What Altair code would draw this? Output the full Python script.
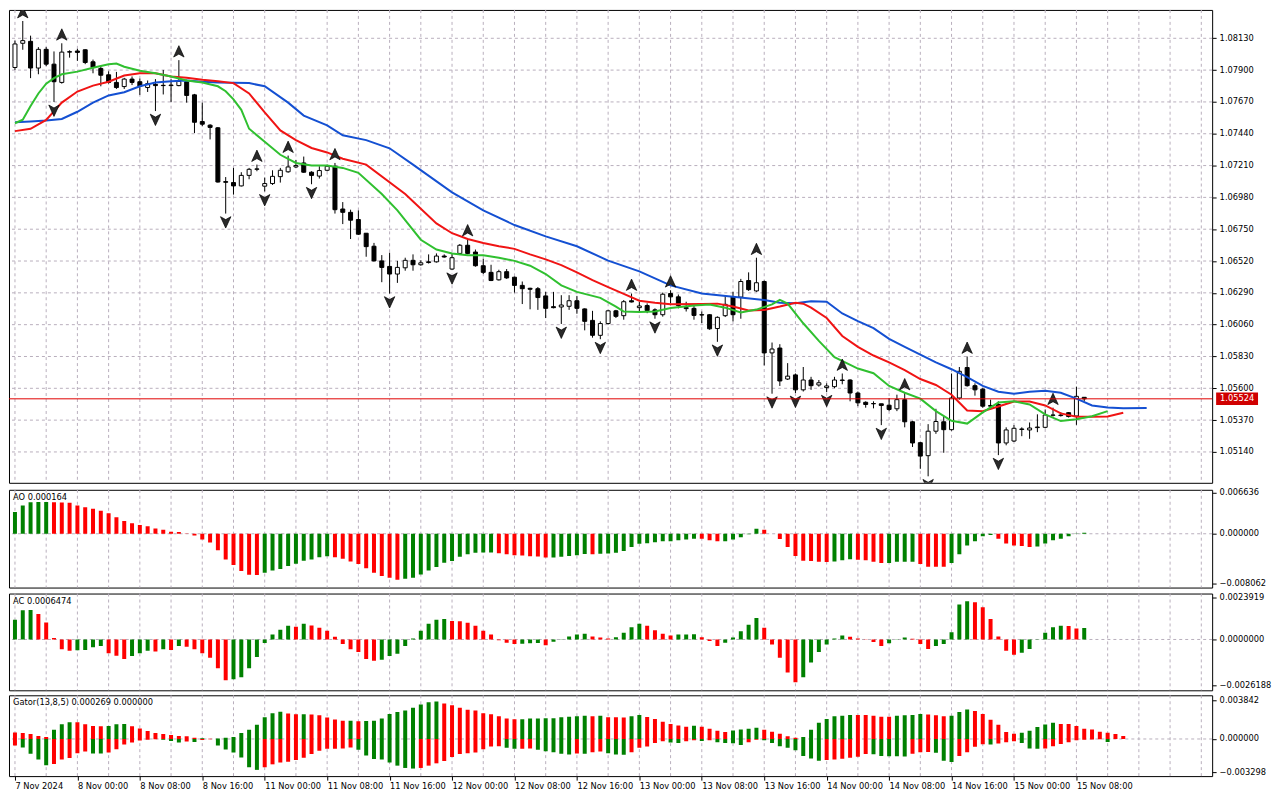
import altair as alt
import pandas as pd

# ---------------- price data (EURUSD H1), bar index 0 = 7 Nov 16:00 ----------------
opens = [1.07919,1.08094,1.08108,1.07915,1.08050,1.07943,1.07811,1.08033,1.08038,1.08047,
         1.07960,1.07912,1.07866,1.07811,1.07781,1.07835,1.07816,1.07774,1.07797,1.07790,
         1.07788,1.07788,1.07816,1.07721,1.07528,1.07502,1.07483,1.07094,1.07087,1.07063,
         1.07139,1.07183,1.07061,1.07080,1.07130,1.07165,1.07200,1.07229,1.07162,1.07134,
         1.07176,1.07205,1.06896,1.06872,1.06820,1.06721,1.06627,1.06521,1.06481,1.06426,
         1.06471,1.06525,1.06493,1.06514,1.06514,1.06556,1.06462,1.06575,1.06634,1.06585,
         1.06486,1.06438,1.06384,1.06443,1.06403,1.06344,1.06323,1.06320,1.06268,1.06190,
         1.06188,1.06193,1.06233,1.06174,1.06091,1.05983,1.06068,1.06160,1.06125,1.06233,
         1.06183,1.06198,1.06167,1.06132,1.06285,1.06261,1.06183,1.06178,1.06132,1.06132,
         1.06032,1.06125,1.06261,1.06259,1.06379,1.06304,1.06372,1.05856,1.05891,1.05667,
         1.05697,1.05589,1.05660,1.05624,1.05605,1.05612,1.05660,1.05660,1.05566,1.05499,
         1.05490,1.05488,1.05478,1.05452,1.05518,1.05358,1.05207,1.05113,1.05290,1.05358,
         1.05301,1.05530,1.05750,1.05619,1.05594,1.05476,1.05483,1.05205,1.05219,1.05306,
         1.05299,1.05316,1.05318,1.05405,1.05403,1.05424,1.05400,1.05535]
highs = [1.08113,1.08255,1.08149,1.08066,1.08066,1.08035,1.08094,1.08043,1.08054,1.08050,
         1.07976,1.07929,1.07891,1.07887,1.07844,1.07854,1.07839,1.07825,1.07835,1.07901,
         1.07835,1.07972,1.07830,1.07728,1.07665,1.07509,1.07488,1.07127,1.07193,1.07162,
         1.07193,1.07217,1.07123,1.07176,1.07193,1.07282,1.07250,1.07275,1.07169,1.07205,
         1.07217,1.07229,1.06946,1.06891,1.06886,1.06721,1.06651,1.06563,1.06580,1.06521,
         1.06544,1.06568,1.06525,1.06568,1.06575,1.06568,1.06575,1.06643,1.06679,1.06603,
         1.06537,1.06493,1.06457,1.06462,1.06408,1.06372,1.06327,1.06332,1.06297,1.06297,
         1.06273,1.06273,1.06268,1.06178,1.06160,1.06084,1.06167,1.06167,1.06238,1.06285,
         1.06226,1.06214,1.06178,1.06292,1.06309,1.06278,1.06226,1.06198,1.06155,1.06136,
         1.06120,1.06273,1.06297,1.06391,1.06438,1.06544,1.06379,1.05931,1.05919,1.05782,
         1.05707,1.05754,1.05683,1.05660,1.05636,1.05683,1.05707,1.05665,1.05577,1.05506,
         1.05506,1.05488,1.05530,1.05554,1.05566,1.05365,1.05212,1.05341,1.05452,1.05400,
         1.05707,1.05754,1.05830,1.05636,1.05601,1.05518,1.05506,1.05318,1.05334,1.05318,
         1.05353,1.05412,1.05447,1.05460,1.05428,1.05428,1.05612,1.05535]
lows = [1.07901,1.08047,1.07842,1.07870,1.07929,1.07670,1.07802,1.07990,1.07967,1.07943,
        1.07877,1.07783,1.07802,1.07764,1.07764,1.07792,1.07721,1.07742,1.07604,1.07724,
        1.07670,1.07783,1.07665,1.07445,1.07495,1.07399,1.07087,1.06863,1.07000,1.07059,
        1.07111,1.07169,1.07023,1.07070,1.07087,1.07158,1.07193,1.07158,1.07075,1.07116,
        1.07169,1.06863,1.06787,1.06679,1.06709,1.06551,1.06516,1.06367,1.06285,1.06362,
        1.06450,1.06450,1.06486,1.06502,1.06509,1.06544,1.06457,1.06563,1.06568,1.06479,
        1.06426,1.06375,1.06379,1.06391,1.06292,1.06209,1.06171,1.06167,1.06108,1.06178,
        1.06065,1.06167,1.06139,1.06019,1.05966,1.05955,1.06061,1.06108,1.06096,1.06221,
        1.06155,1.06143,1.06103,1.06118,1.06214,1.06178,1.06155,1.06096,1.06072,1.06023,
        1.05936,1.06115,1.06084,1.06103,1.06304,1.06297,1.05766,1.05561,1.05617,1.05660,
        1.05566,1.05577,1.05589,1.05612,1.05572,1.05601,1.05629,1.05506,1.05471,1.05460,
        1.05455,1.05334,1.05435,1.05435,1.05318,1.05176,1.05018,1.04964,1.05271,1.05134,
        1.05294,1.05518,1.05612,1.05547,1.05460,1.05447,1.05117,1.05188,1.05212,1.05254,
        1.05235,1.05283,1.05311,1.05396,1.05396,1.05389,1.05336,1.05506]
closes = [1.08089,1.08113,1.07915,1.08050,1.07943,1.07816,1.08030,1.08030,1.08028,1.07955,
          1.07919,1.07863,1.07811,1.07774,1.07835,1.07811,1.07783,1.07802,1.07788,1.07788,
          1.07792,1.07818,1.07717,1.07523,1.07509,1.07486,1.07091,1.07089,1.07063,1.07139,
          1.07183,1.07186,1.07080,1.07132,1.07176,1.07200,1.07210,1.07162,1.07139,1.07174,
          1.07205,1.06891,1.06872,1.06815,1.06714,1.06624,1.06521,1.06474,1.06426,1.06474,
          1.06525,1.06493,1.06507,1.06509,1.06556,1.06549,1.06544,1.06634,1.06575,1.06486,
          1.06438,1.06379,1.06443,1.06398,1.06344,1.06320,1.06316,1.06256,1.06178,1.06183,
          1.06202,1.06233,1.06178,1.06084,1.05983,1.06068,1.06160,1.06120,1.06226,1.06224,
          1.06195,1.06162,1.06132,1.06280,1.06261,1.06198,1.06176,1.06127,1.06130,1.06030,
          1.06113,1.06207,1.06132,1.06372,1.06313,1.06363,1.05856,1.05884,1.05653,1.05688,
          1.05589,1.05660,1.05619,1.05640,1.05617,1.05660,1.05657,1.05566,1.05495,1.05483,
          1.05488,1.05476,1.05447,1.05518,1.05358,1.05205,1.05110,1.05290,1.05360,1.05301,
          1.05530,1.05723,1.05619,1.05589,1.05471,1.05471,1.05205,1.05299,1.05311,1.05303,
          1.05313,1.05320,1.05407,1.05407,1.05407,1.05396,1.05542,1.05524]

up_fractals = [1, 6, 21, 31, 35, 41, 58, 79, 84, 95, 106, 114, 122, 133]
down_fractals = [5, 18, 27, 32, 38, 48, 56, 70, 75, 82, 90, 97, 100, 104, 111, 117, 126]

# ---------------- Alligator lines (bar index incl. forward shift, price) ----------------
jaw_i = [0,2,4,6,8,10,12,14,16,18,20,22,24,26,30,32,35,37,40,42,45,48,51,56,60,64,68,72,76,80,
         84,88,92,96,98,100,102,104,106,108,110,112,114,116,118,120,122,124,126,128,130,132,134,
         136,138,140,142,145]
jaw_p = [1.07523,1.07528,1.07535,1.07547,1.07599,1.07665,1.07717,1.07740,1.07783,1.07811,
         1.07820,1.07825,1.07816,1.07811,1.07806,1.07783,1.07665,1.07571,1.07500,1.07429,
         1.07394,1.07335,1.07217,1.07016,1.06886,1.06780,1.06698,1.06627,1.06523,1.06445,
         1.06344,1.06285,1.06261,1.06238,1.06219,1.06214,1.06229,1.06226,1.06141,1.06085,
         1.06035,1.05957,1.05900,1.05844,1.05787,1.05738,1.05681,1.05617,1.05575,1.05561,
         1.05575,1.05582,1.05568,1.05525,1.05476,1.05462,1.05455,1.05458]
teeth_i = [0,2,4,6,8,10,12,14,16,18,20,22,24,26,28,30,32,34,36,38,40,42,45,50,54,56,58,60,62,64,
           66,68,70,72,74,76,78,80,82,84,88,90,92,94,96,98,100,101,102,104,106,108,110,112,114,
           116,118,120,122,124,126,128,130,132,134,136,138,140,142]
teeth_p = [1.07459,1.07476,1.07540,1.07665,1.07745,1.07788,1.07816,1.07861,1.07877,1.07877,
           1.07854,1.07844,1.07830,1.07820,1.07806,1.07731,1.07594,1.07464,1.07394,1.07337,
           1.07305,1.07259,1.07217,1.07004,1.06792,1.06721,1.06679,1.06651,1.06627,1.06608,
           1.06568,1.06532,1.06490,1.06438,1.06382,1.06332,1.06283,1.06233,1.06219,1.06208,
           1.06210,1.06212,1.06191,1.06162,1.06166,1.06191,1.06219,1.06212,1.06183,1.06108,
           1.05978,1.05900,1.05837,1.05787,1.05731,1.05667,1.05624,1.05554,1.05440,1.05435,
           1.05469,1.05504,1.05504,1.05476,1.05419,1.05394,1.05394,1.05396,1.05424]
lips_i = [0,1,2,3,4,5,6,8,10,12,13,14,16,18,20,22,24,26,27,28,29,30,32,34,36,38,40,42,44,47,
          49,52,54,56,58,60,62,64,66,68,70,72,75,77,78,80,82,84,87,89,91,93,95,97,98,99,101,103,
          105,108,110,112,114,116,118,120,122,124,126,128,130,132,134,136,138,140]
lips_p = [1.07516,1.07542,1.07641,1.07731,1.07802,1.07842,1.07870,1.07889,1.07917,1.07943,
          1.07948,1.07924,1.07896,1.07877,1.07854,1.07825,1.07811,1.07783,1.07747,1.07689,
          1.07613,1.07476,1.07382,1.07288,1.07229,1.07210,1.07210,1.07193,1.07158,1.07004,
          1.06886,1.06674,1.06603,1.06575,1.06561,1.06561,1.06544,1.06521,1.06486,1.06426,
          1.06344,1.06297,1.06254,1.06191,1.06155,1.06152,1.06155,1.06180,1.06198,1.06205,
          1.06183,1.06148,1.06169,1.06207,1.06240,1.06212,1.06070,1.05943,1.05825,1.05743,
          1.05709,1.05617,1.05568,1.05525,1.05435,1.05365,1.05345,1.05426,1.05497,1.05506,
          1.05483,1.05412,1.05363,1.05377,1.05398,1.05435]

# ---------------- Awesome Oscillator ----------------
ao_values = [0.00355,0.00461,0.00514,0.00516,0.00518,0.00512,0.00510,0.00504,0.00461,0.00429,
             0.00408,0.00376,0.00334,0.00270,0.00207,0.00170,0.00143,0.00122,0.00085,0.00064,
             0.00032,0.00027,0.00005,-0.00027,-0.00095,-0.00143,-0.00270,-0.00419,-0.00509,-0.00604,
             -0.00668,-0.00670,-0.00636,-0.00599,-0.00572,-0.00525,-0.00488,-0.00440,-0.00419,-0.00382,
             -0.00366,-0.00382,-0.00408,-0.00451,-0.00493,-0.00562,-0.00636,-0.00689,-0.00716,-0.00747,
             -0.00731,-0.00716,-0.00663,-0.00599,-0.00541,-0.00472,-0.00445,-0.00376,-0.00334,-0.00307,
             -0.00306,-0.00305,-0.00318,-0.00334,-0.00350,-0.00352,-0.00366,-0.00368,-0.00387,-0.00386,
             -0.00376,-0.00360,-0.00350,-0.00328,-0.00332,-0.00325,-0.00320,-0.00307,-0.00281,-0.00217,
             -0.00164,-0.00154,-0.00138,-0.00122,-0.00121,-0.00106,-0.00095,-0.00080,-0.00081,-0.00106,
             -0.00122,-0.00121,-0.00095,-0.00058,-0.00010,0.00080,0.00064,0.00002,-0.00085,-0.00217,
             -0.00360,-0.00440,-0.00442,-0.00456,-0.00458,-0.00450,-0.00429,-0.00413,-0.00424,-0.00430,
             -0.00456,-0.00477,-0.00475,-0.00456,-0.00455,-0.00454,-0.00493,-0.00535,-0.00537,-0.00538,
             -0.00477,-0.00334,-0.00191,-0.00122,-0.00042,-0.00020,-0.00080,-0.00159,-0.00191,-0.00201,
             -0.00217,-0.00207,-0.00159,-0.00106,-0.00080,-0.00042,-0.00005,0.000164]
ao_colors = ("GGGGGRRRRR" "RRRRRRRRRR" "RRRRRRRRRR" "RRGGGGGGGG" "GRRRRRRRRR"
             "GGGGGGGGGG" "GGRRRRRRRG" "GGGGRGGGGG" "GGGGGGGGRR" "RGGGGGRRRR"
             "RRRRRGGGRR" "RRGGGGRRRR" "GGGGGGRRRR" "RGGGGGGG")

# ---------------- Accelerator Oscillator ----------------
ac_values = [0.00112,0.00167,0.00168,0.00145,0.00097,0.00009,-0.00056,-0.00065,-0.00061,-0.00060,
             -0.00045,-0.00037,-0.00078,-0.00093,-0.00112,-0.00095,-0.00078,-0.00065,-0.00069,-0.00056,
             -0.00060,-0.00037,-0.00041,-0.00056,-0.00078,-0.00104,-0.00164,-0.00233,-0.00227,-0.00216,
             -0.00164,-0.00100,-0.00020,0.00028,0.00056,0.00078,0.00073,0.00089,0.00080,0.00067,
             0.00050,0.00015,-0.00026,-0.00056,-0.00071,-0.00112,-0.00121,-0.00115,-0.00095,-0.00082,
             -0.00037,0.00006,0.00050,0.00089,0.00112,0.00117,0.00106,0.00104,0.00095,0.00078,
             0.00050,0.00028,-0.00004,-0.00019,-0.00026,-0.00024,-0.00022,-0.00020,-0.00033,-0.00013,
             -0.00001,0.00017,0.00028,0.00033,0.00017,0.00011,0.00006,0.00013,0.00039,0.00069,
             0.00089,0.00078,0.00052,0.00033,0.00022,0.00028,0.00029,0.00030,0.00013,-0.00009,
             -0.00037,-0.00019,0.00011,0.00047,0.00084,0.00123,0.00067,-0.00028,-0.00104,-0.00188,
             -0.00244,-0.00216,-0.00132,-0.00071,-0.00028,0.00006,0.00022,0.00015,0.00006,-0.00002,
             -0.00015,-0.00037,-0.00022,-0.00002,0.00011,0.00004,-0.00026,-0.00054,-0.00037,-0.00026,
             0.00041,0.00199,0.00218,0.00212,0.00184,0.00117,0.00017,-0.00065,-0.00087,-0.00076,
             -0.00054,-0.00002,0.00039,0.00069,0.00078,0.00077,0.00062,0.0006474]
ac_colors = ("GGGRRRRRGG" "GGRRRGGGRG" "RGRRRRRRGG" "GGGGGGRGRR" "RRRRRRRGGG"
             "GGGGGGRRRR" "RRRRRGGGRG" "GGGGRRRGGG" "GRRRRGGGRR" "RGGGGGRRRR"
             "RGGGGGGRRR" "RRGGGRRRGG" "GGGRRRRRRG" "GGGGGRRG")

# ---------------- Gator Oscillator ----------------
gator_up = [0.00065,0.00059,0.00049,0.00029,0.00020,0.00092,0.00147,0.00167,0.00165,0.00147,
            0.00128,0.00127,0.00130,0.00147,0.00148,0.00127,0.00105,0.00078,0.00059,0.00049,
            0.00039,0.00029,0.00028,0.00013,0.00007,0.00002,0.00005,0.00013,0.00020,0.00059,
            0.00092,0.00141,0.00216,0.00255,0.00271,0.00252,0.00245,0.00246,0.00244,0.00235,
            0.00213,0.00193,0.00180,0.00181,0.00177,0.00178,0.00180,0.00203,0.00249,0.00268,
            0.00284,0.00311,0.00343,0.00366,0.00373,0.00353,0.00334,0.00311,0.00291,0.00284,
            0.00255,0.00245,0.00226,0.00203,0.00196,0.00197,0.00203,0.00204,0.00205,0.00206,
            0.00216,0.00222,0.00226,0.00232,0.00226,0.00232,0.00216,0.00215,0.00214,0.00226,
            0.00239,0.00219,0.00199,0.00170,0.00150,0.00134,0.00121,0.00131,0.00121,0.00101,
            0.00082,0.00069,0.00085,0.00095,0.00101,0.00111,0.00092,0.00072,0.00052,0.00026,
            0.00013,0.00020,0.00092,0.00160,0.00199,0.00226,0.00232,0.00239,0.00238,0.00237,
            0.00232,0.00222,0.00221,0.00232,0.00235,0.00239,0.00248,0.00242,0.00235,0.00226,
            0.00232,0.00268,0.00294,0.00278,0.00249,0.00190,0.00141,0.00069,0.00052,0.00062,
            0.00082,0.00118,0.00144,0.00160,0.00150,0.00150,0.00128,0.00101,0.00095,0.00072,
            0.00062,0.00049,0.00029]
gator_up_colors = ("RRRRRGGGRR" "RRGGGRRRRR" "RRRRGRGGGG" "GGGGGRRGRR" "RRRGRGGGGG"
                   "GGGGGRRRRR" "RRRRRGGGGG" "GGGGRGRRRG" "GRRRRRRGRR" "RRGGGGRRRR"
                   "RGGGGGGGRR" "RRRGGGGRRR" "GGGRRRRRRG" "GGGGRRRRRR" "RRR")
gator_dn = [-0.00065,-0.00085,-0.00147,-0.00203,-0.00262,-0.00249,-0.00203,-0.00190,-0.00141,-0.00124,
            -0.00144,-0.00145,-0.00134,-0.00101,-0.00056,-0.00036,-0.00016,-0.00007,-0.00003,-0.00007,
            -0.00020,-0.00036,-0.00026,-0.00029,-0.00010,-0.00003,-0.00065,-0.00105,-0.00134,-0.00183,
            -0.00281,-0.00307,-0.00281,-0.00252,-0.00235,-0.00226,-0.00209,-0.00186,-0.00150,-0.00118,
            -0.00098,-0.00097,-0.00095,-0.00085,-0.00108,-0.00164,-0.00199,-0.00203,-0.00235,-0.00265,
            -0.00288,-0.00294,-0.00288,-0.00265,-0.00242,-0.00219,-0.00180,-0.00150,-0.00141,-0.00134,
            -0.00101,-0.00075,-0.00072,-0.00088,-0.00098,-0.00096,-0.00094,-0.00108,-0.00121,-0.00131,
            -0.00147,-0.00154,-0.00144,-0.00147,-0.00131,-0.00124,-0.00141,-0.00154,-0.00157,-0.00131,
            -0.00088,-0.00075,-0.00039,-0.00023,-0.00036,-0.00039,-0.00023,-0.00013,-0.00020,-0.00013,
            -0.00033,-0.00039,-0.00043,-0.00059,-0.00033,-0.00007,-0.00013,-0.00039,-0.00072,-0.00088,
            -0.00111,-0.00170,-0.00193,-0.00216,-0.00209,-0.00203,-0.00196,-0.00186,-0.00177,-0.00150,
            -0.00151,-0.00170,-0.00171,-0.00172,-0.00173,-0.00147,-0.00131,-0.00130,-0.00137,-0.00216,
            -0.00229,-0.00170,-0.00131,-0.00078,-0.00052,-0.00056,-0.00046,-0.00033,-0.00023,-0.00039,
            -0.00095,-0.00098,-0.00095,-0.00072,-0.00049,-0.00033,-0.00013,-0.00008,-0.00005,-0.00003,
            -0.00029]
gator_dn_colors = ("RGGGGRRRRR" "GGRRRRRRRG" "GGRGRRGGGG" "GGRRRRRRRR" "RRRRGGGGGG"
                   "GGRRRRRRRR" "RRRGGRRGGG" "GGRGRRGGGR" "RRRRGGRRGR" "GGGGRRGGGG"
                   "GGGGRRRRRR" "GGGGGRRRGG" "GRRRRGRRRG" "GGRRRRRRRRG")

# ---------------- axes / texts ----------------
price_ticks = [1.05140,1.05370,1.05600,1.05830,1.06060,1.06290,1.06520,1.06750,
               1.06980,1.07210,1.07440,1.07670,1.07900,1.08130]
current_price = 1.05524
ao_ticks = [-0.008062, 0.0, 0.006636]
ac_ticks = [-0.0026188, 0.0, 0.0023919]
gator_ticks = [-0.003298, 0.0, 0.003842]
x_labels = ["7 Nov 2024","8 Nov 00:00","8 Nov 08:00","8 Nov 16:00","11 Nov 00:00","11 Nov 08:00",
            "11 Nov 16:00","12 Nov 00:00","12 Nov 08:00","12 Nov 16:00","13 Nov 00:00","13 Nov 08:00",
            "13 Nov 16:00","14 Nov 00:00","14 Nov 08:00","14 Nov 16:00","15 Nov 00:00","15 Nov 08:00"]
ao_title = "AO 0.000164"
ac_title = "AC 0.0006474"
gator_title = "Gator(13,8,5) 0.000269 0.000000"

# ---------------- styling ----------------
FONT = "DejaVu Sans"
FS = 8.3
W = 1206
H_MAIN, H_AO, H_AC, H_G = 474, 98, 97, 81
SPACING = 3
GRID = "#b9afbd"
DASH = [3, 3]
BLUE, RED, LIME = "#1450d2", "#f01414", "#30c030"
GREEN_BAR, RED_BAR = "#008000", "#ff0000"

xscale = alt.Scale(domain=[-0.125, 152.75], nice=False, zero=False)
main_y = alt.Scale(domain=[1.04917, 1.08335], nice=False, zero=False)
ao_y = alt.Scale(domain=[-0.00875, 0.00715], nice=False, zero=False)
ac_y = alt.Scale(domain=[-0.00290, 0.00262], nice=False, zero=False)
g_y = alt.Scale(domain=[-0.00369, 0.00434], nice=False, zero=False)
col_scale = alt.Scale(domain=["G", "R"], range=[GREEN_BAR, RED_BAR])

UP_SHAPE = "M0,-1L0.8,0.75L0,0.3L-0.8,0.75Z"
DOWN_SHAPE = "M0,1L0.8,-0.75L0,-0.3L-0.8,-0.75Z"
BOX_SHAPE = "M-1,-0.3L1,-0.3L1,0.3L-1,0.3Z"


def right_axis(values, fmt):
    return alt.Axis(orient="right", values=values, format=fmt, title=None, grid=False,
                    domain=False, ticks=True, tickSize=4, labelPadding=3,
                    labelFont=FONT, labelFontSize=FS, labelColor="black", tickColor="black")


label_pos = [8 * k for k in range(len(x_labels))]
label_expr = "[" + ",".join("'" + s + "'" for s in x_labels) + "][round(datum.value / 8)]"
bottom_axis = alt.Axis(orient="bottom", values=label_pos, labelExpr=label_expr, title=None,
                       grid=False, domain=False, ticks=True, tickSize=4, tickColor="black",
                       labelAlign="left", labelPadding=1, labelFlush=False, labelOverlap=False,
                       labelFont=FONT, labelFontSize=FS, labelColor="black", labelBound=False)

vgrid_df = pd.DataFrame({"i": list(range(0, 153, 4))})


def hist_df(vals, cols):
    return pd.DataFrame({"i": list(range(len(vals))), "v": vals,
                         "col": [cols[k] if k < len(cols) else "G" for k in range(len(vals))]})


def title_layer(text):
    return alt.Chart(pd.DataFrame({"t": [text]})).mark_text(
        align="left", baseline="top", font=FONT, fontSize=FS, color="black"
    ).encode(x=alt.value(4), y=alt.value(3), text="t:N")


def make_xy(xaxis, yscale, yaxis):
    def X(field="i"):
        return alt.X(f"{field}:Q", scale=xscale, axis=xaxis, title=None)

    def Y(field):
        return alt.Y(f"{field}:Q", scale=yscale, axis=yaxis, title=None)
    return X, Y


# ---------------- main panel ----------------
n = min(len(opens), len(highs), len(lows), len(closes))
candles = pd.DataFrame({"i": list(range(n)), "o": opens[:n], "h": highs[:n],
                        "l": lows[:n], "c": closes[:n]})

main_axis = right_axis(price_ticks, ".5f")
MX, MY = make_xy(None, main_y, main_axis)

vgrid_main = alt.Chart(vgrid_df).mark_rule(color=GRID, strokeDash=DASH, strokeWidth=1).encode(x=MX())
hgrid = alt.Chart(pd.DataFrame({"p": price_ticks})).mark_rule(
    color=GRID, strokeDash=DASH, strokeWidth=1).encode(y=MY("p"))
wicks = alt.Chart(candles).mark_rule(color="black", strokeWidth=1, clip=True).encode(
    x=MX(), y=MY("l"), y2=alt.Y2("h:Q", title=None))
bodies = alt.Chart(candles).mark_bar(width=4, stroke="black", strokeWidth=1, clip=True).encode(
    x=MX(), y=MY("o"), y2=alt.Y2("c:Q", title=None),
    fill=alt.condition("datum.c > datum.o", alt.value("white"), alt.value("black")))


def line(ii, pp, color):
    m = min(len(ii), len(pp))
    return alt.Chart(pd.DataFrame({"i": ii[:m], "p": pp[:m]})).mark_line(
        color=color, strokeWidth=2, clip=True).encode(x=MX(), y=MY("p"))


up_df = candles[candles.i.isin(up_fractals)]
dn_df = candles[candles.i.isin(down_fractals)]
up_marks = alt.Chart(up_df).mark_point(
    shape=UP_SHAPE, size=170, filled=True, fill="#2a2a2a", stroke="#000000", strokeWidth=0.7,
    opacity=1, yOffset=-8, clip=True).encode(x=MX(), y=MY("h"))
dn_marks = alt.Chart(dn_df).mark_point(
    shape=DOWN_SHAPE, size=170, filled=True, fill="#2a2a2a", stroke="#000000", strokeWidth=0.7,
    opacity=1, yOffset=8, clip=True).encode(x=MX(), y=MY("l"))

price_df = pd.DataFrame({"p": [current_price], "label": [f"{current_price:.5f}"]})
price_line = alt.Chart(price_df).mark_rule(color="#e00000", strokeWidth=1).encode(y=MY("p"))
price_box = alt.Chart(price_df).mark_point(
    shape=BOX_SHAPE, size=1764, filled=True, fill="#d00000", opacity=1, strokeWidth=0
).encode(x=alt.value(W + 25), y=MY("p"))
price_text = alt.Chart(price_df).mark_text(
    font=FONT, fontSize=FS, color="white", align="center", baseline="middle"
).encode(x=alt.value(W + 25), y=MY("p"), text="label:N")

main = alt.layer(
    vgrid_main, hgrid, wicks, bodies,
    line(jaw_i, jaw_p, BLUE), line(teeth_i, teeth_p, RED), line(lips_i, lips_p, LIME),
    up_marks, dn_marks, price_line, price_box, price_text
).properties(width=W, height=H_MAIN)


# ---------------- oscillator panels ----------------
def osc_panel(vals, cols, yscale, ticks, fmt, title, height, x_axis=None, lower=None, lower_cols=None):
    X, Y = make_xy(x_axis, yscale, right_axis(ticks, fmt))
    layers = [
        alt.Chart(vgrid_df).mark_rule(color=GRID, strokeDash=DASH, strokeWidth=1).encode(x=X()),
        alt.Chart(pd.DataFrame({"v": [0.0]})).mark_rule(
            color=GRID, strokeDash=DASH, strokeWidth=1).encode(y=Y("v")),
        alt.Chart(hist_df(vals, cols)).mark_bar(width=4, clip=True).encode(
            x=X(), y=Y("v"), y2=alt.datum(0),
            color=alt.Color("col:N", scale=col_scale, legend=None)),
    ]
    if lower is not None:
        layers.append(alt.Chart(hist_df(lower, lower_cols)).mark_bar(width=4, clip=True).encode(
            x=X(), y=Y("v"), y2=alt.datum(0),
            color=alt.Color("col:N", scale=col_scale, legend=None)))
    layers.append(title_layer(title))
    return alt.layer(*layers).properties(width=W, height=height)


ao = osc_panel(ao_values, ao_colors, ao_y, ao_ticks, ".6f", ao_title, H_AO)
ac = osc_panel(ac_values, ac_colors, ac_y, ac_ticks, ".7f", ac_title, H_AC)
gator = osc_panel(gator_up, gator_up_colors, g_y, gator_ticks, ".6f", gator_title, H_G,
                  x_axis=bottom_axis, lower=gator_dn, lower_cols=gator_dn_colors)

chart = alt.vconcat(main, ao, ac, gator, spacing=SPACING).properties(
    padding=0, background="white"
).configure_view(stroke="black", strokeWidth=1)

chart.save("out.html", embed_options={"renderer": "svg", "actions": False})
